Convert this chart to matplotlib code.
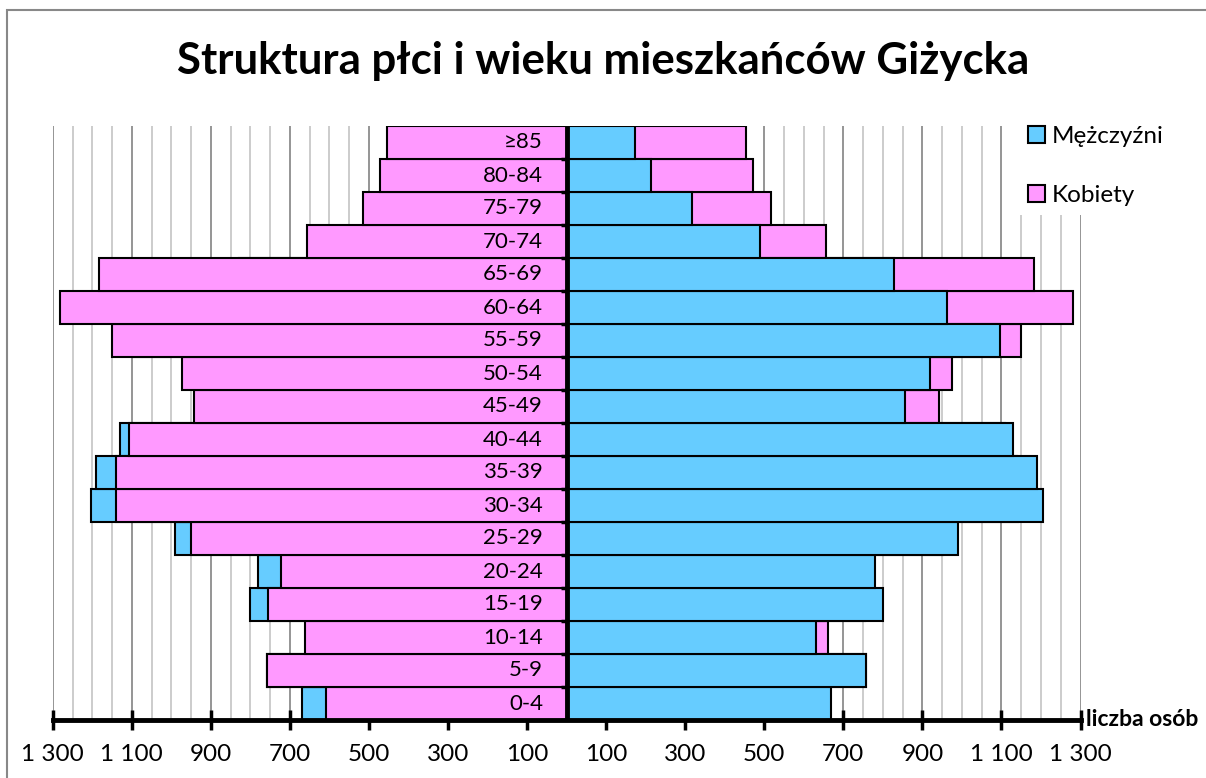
import numpy as np
import matplotlib
matplotlib.use("Agg")
import matplotlib.pyplot as plt
from matplotlib.patches import Patch, Rectangle
from matplotlib.ticker import FixedLocator, MultipleLocator

plt.rcParams['font.family'] = ['Lato', 'DejaVu Sans']

# -- Data --

age_groups = ["0-4", "5-9", "10-14", "15-19", "20-24", "25-29", "30-34",
              "35-39", "40-44", "45-49", "50-54", "55-59", "60-64", "65-69",
              "70-74", "75-79", "80-84", "≥85"]
men = [670, 758, 631, 800, 781, 990, 1204, 1190, 1130, 856, 920, 1096,
       961, 829, 488, 317, 214, 174]
women = [609, 757, 661, 755, 722, 951, 1141, 1139, 1108, 942, 974, 1150,
         1281, 1182, 657, 516, 472, 455]

tick_values = [-1300, -1100, -900, -700, -500, -300, -100,
               100, 300, 500, 700, 900, 1100, 1300]
tick_labels = ["1 300", "1 100", "900", "700", "500", "300", "100",
               "100", "300", "500", "700", "900", "1 100", "1 300"]

title = "Struktura płci i wieku mieszkańców Giżycka"

# -- Plotting code --

blue = "#66CCFF"
pink = "#FF99FF"

W, H = 1206, 778
fig = plt.figure(figsize=(W / 100, H / 100), dpi=100)

# chart area border (only left and top edges fall inside the picture)
fig.patches.append(Rectangle((7 / W, -1), 2, 2 - 10 / H, transform=fig.transFigure,
                             fill=False, edgecolor="#888888", linewidth=1.5))

ax = fig.add_axes([52.8 / W, 1 - 720 / H, 1027.7 / W, 594 / H])

y = np.arange(len(age_groups))
men = np.array(men)
women = np.array(women)

# left half: women in front, right half: men in front
ax.barh(y, -men, height=1.0, color=blue, edgecolor="black", linewidth=1.5, zorder=3)
ax.barh(y, -women, height=1.0, color=pink, edgecolor="black", linewidth=1.5, zorder=4)
ax.barh(y, women, height=1.0, color=pink, edgecolor="black", linewidth=1.5, zorder=3)
ax.barh(y, men, height=1.0, color=blue, edgecolor="black", linewidth=1.5, zorder=4)

ax.set_xlim(-1300, 1300)
ax.set_ylim(-0.5, len(age_groups) - 0.5)

# gridlines: minor every 50, major at labelled ticks
ax.xaxis.set_major_locator(FixedLocator(tick_values))
ax.xaxis.set_minor_locator(MultipleLocator(50))
ax.set_xticklabels(tick_labels, fontsize=17.5)
ax.grid(axis="x", which="minor", color="#c8c8c8", linewidth=1.3, zorder=0)
ax.grid(axis="x", which="major", color="#8c8c8c", linewidth=1.3, zorder=0)
ax.tick_params(axis="x", which="major", direction="inout", length=15, width=2.5,
               color="black", pad=10)
ax.tick_params(axis="x", which="minor", length=0)
ax.set_yticks([])

for s in ["top", "left", "right"]:
    ax.spines[s].set_visible(False)
ax.spines["bottom"].set_linewidth(3.5)
ax.spines["bottom"].set_zorder(6)

# central axis with small category ticks
ax.axvline(0, color="black", linewidth=3.5, zorder=6)
ax.hlines(np.arange(len(age_groups)) - 0.5, -14, 0, color="black",
          linewidth=2.5, zorder=6)

for yi, lab in zip(y, age_groups):
    ax.text(-60, yi, lab, ha="right", va="center", fontsize=16, zorder=7)

ax.text(1.005, 0.0, "liczba osób", transform=ax.transAxes, ha="left",
        va="center", fontsize=16.5, fontweight="bold", clip_on=False)

fig.text(0.5, 1 - 61 / H, title, ha="center", va="center", fontsize=31.5,
         fontweight="bold")

handles = [Patch(facecolor=blue, edgecolor="black", linewidth=1.5),
           Patch(facecolor=pink, edgecolor="black", linewidth=1.5)]
leg = fig.legend(handles, ["Mężczyźni", "Kobiety"], loc="upper left",
                 bbox_to_anchor=(1006 / W, 1 - 104 / H), frameon=True,
                 facecolor="white", edgecolor="none", framealpha=1,
                 fancybox=False, fontsize=17.5, handlelength=0.7,
                 handleheight=0.7, handletextpad=0.3, labelspacing=1.55,
                 borderpad=0.4)

fig.savefig("out.png", dpi=100)
